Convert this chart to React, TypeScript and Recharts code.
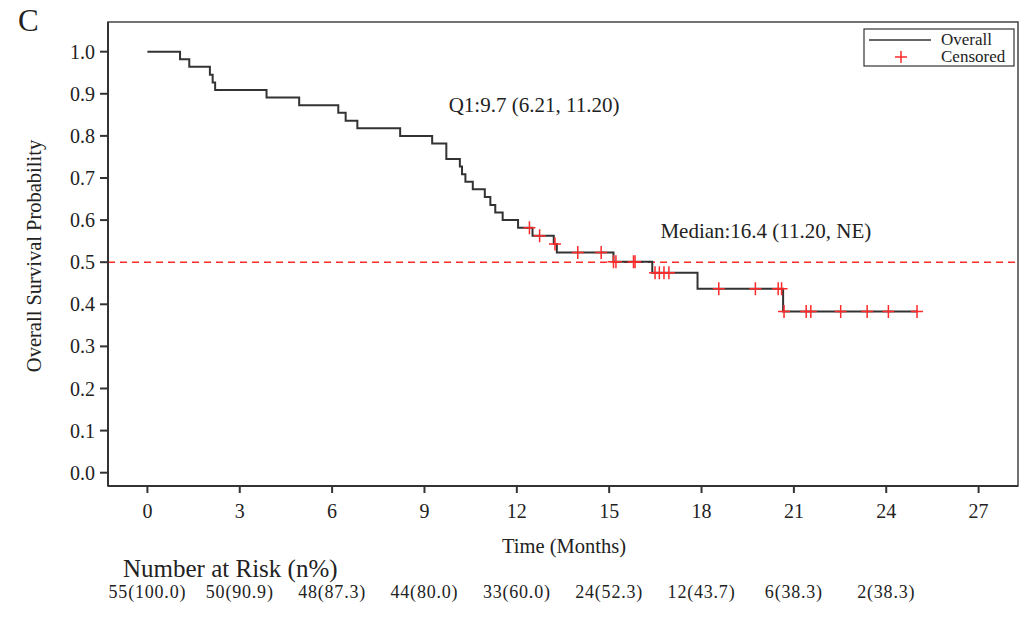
import React from 'react';
import {
  ComposedChart,
  Line,
  Scatter,
  XAxis,
  YAxis,
  ReferenceLine,
  ReferenceArea,
  ReferenceDot,
} from 'recharts';

// KM curve: event times (months) and survival after each step
const eventTimes = [
  0, 1.06, 1.36, 2.03, 2.12, 2.2, 3.87, 4.93, 6.2, 6.44, 6.82, 8.21, 9.25, 9.71, 10.15,
  10.22, 10.33, 10.57, 10.96, 11.14, 11.3, 11.54, 12.04, 12.51, 13.2, 13.3, 15.14, 16.4,
  17.87, 20.65, 25.02,
];
const survival = [
  1.0, 0.982, 0.964, 0.945, 0.927, 0.909, 0.891, 0.873, 0.855, 0.836, 0.818, 0.8, 0.782,
  0.745, 0.727, 0.709, 0.691, 0.673, 0.655, 0.636, 0.618, 0.6, 0.582, 0.563, 0.543, 0.523,
  0.501, 0.475, 0.437, 0.383, 0.383,
];

// censored patients
const censorTimes = [
  12.41, 12.74, 13.24, 13.98, 14.74, 15.14, 15.22, 15.79, 15.84, 16.49, 16.63, 16.78, 16.94,
  18.56, 19.75, 20.49, 20.6, 20.68, 21.4, 21.55, 22.52, 23.38, 24.07, 25.0,
];
const censorSurvival = [
  0.582, 0.563, 0.543, 0.523, 0.523, 0.501, 0.501, 0.501, 0.501, 0.475, 0.475, 0.475, 0.475,
  0.437, 0.437, 0.437, 0.437, 0.383, 0.383, 0.383, 0.383, 0.383, 0.383, 0.383,
];

const xTicks = [0, 3, 6, 9, 12, 15, 18, 21, 24, 27];
const yTicks = [0, 0.1, 0.2, 0.3, 0.4, 0.5, 0.6, 0.7, 0.8, 0.9, 1.0];
const riskLabels = [
  '55(100.0)', '50(90.9)', '48(87.3)', '44(80.0)', '33(60.0)',
  '24(52.3)', '12(43.7)', '6(38.3)', '2(38.3)',
];

const q1Text = 'Q1:9.7 (6.21, 11.20)';
const medianText = 'Median:16.4 (11.20, NE)';

const X_MIN = -1.28;
const X_MAX = 28.28;
const Y_MIN = -0.0316;
const Y_MAX = 1.0705;

const curve = eventTimes.map((t, i) => ({ t, s: survival[i] }));
const censored = censorTimes.map((t, i) => ({ t, s: censorSurvival[i] }));

const FONT = '"Liberation Serif", "Times New Roman", serif';
const INK = '#222';
const RED = '#ff2a2a';

const PlusMark = (props: any) => {
  const { cx, cy } = props;
  if (cx == null || cy == null) return null;
  return (
    <path
      d={`M${cx - 6},${cy}H${cx + 6}M${cx},${cy - 6.5}V${cy + 6.5}`}
      stroke={RED}
      strokeWidth={1.5}
      fill="none"
    />
  );
};

// x tick + the number-at-risk row underneath it
const TimeTick = (props: any) => {
  const { x, y, payload } = props;
  const i = xTicks.indexOf(payload.value);
  const risk = riskLabels[i];
  return (
    <g>
      <text x={x} y={y} dy="0.71em" textAnchor="middle" fontSize={20} fill={INK} fontFamily={FONT}>
        {payload.value}
      </text>
      {risk && (
        <text
          x={x}
          y={y + 94}
          textAnchor="middle"
          fontSize={18}
          letterSpacing={0.8}
          fill={INK}
          fontFamily={FONT}
        >
          {risk}
        </text>
      )}
    </g>
  );
};

export default function App() {
  return (
    <div style={{ position: 'absolute', left: 0, top: 0, width: 1033, height: 618, background: '#fff' }}>
      <ComposedChart
        width={1033}
        height={618}
        margin={{ top: 22, right: 15, left: 48, bottom: 92 }}
        style={{ fontFamily: FONT }}
      >
        <XAxis
          dataKey="t"
          type="number"
          domain={[X_MIN, X_MAX]}
          ticks={xTicks}
          height={40}
          tickSize={7}
          tickMargin={11}
          stroke="#333"
          strokeWidth={2}
          tick={<TimeTick />}
          allowDataOverflow
        />
        <YAxis
          type="number"
          domain={[Y_MIN, Y_MAX]}
          ticks={yTicks}
          width={60}
          tickSize={8}
          tickMargin={5}
          tickFormatter={(v: number) => v.toFixed(1)}
          tick={{ fontSize: 20, fill: INK, fontFamily: FONT }}
          stroke="#333"
          strokeWidth={2}
          allowDataOverflow
        />
        <ReferenceArea
          x1={X_MIN}
          x2={X_MAX}
          y1={Y_MIN}
          y2={Y_MAX}
          fill="none"
          stroke="#444"
          strokeWidth={1.5}
          ifOverflow="visible"
        />
        <ReferenceLine y={0.5} stroke={RED} strokeDasharray="7 5" strokeWidth={1.5} />
        <Line
          data={curve}
          dataKey="s"
          type="stepAfter"
          stroke="#333"
          strokeWidth={2}
          dot={false}
          isAnimationActive={false}
        />
        <Scatter data={censored} dataKey="s" shape={<PlusMark />} isAnimationActive={false} />
        <ReferenceDot
          x={12.56}
          y={0.875}
          r={0}
          fill="none"
          stroke="none"
          label={{ value: q1Text, position: 'center', fontSize: 21, fill: INK, fontFamily: FONT }}
        />
        <ReferenceDot
          x={20.09}
          y={0.575}
          r={0}
          fill="none"
          stroke="none"
          label={{ value: medianText, position: 'center', fontSize: 21, fill: INK, fontFamily: FONT }}
        />
      </ComposedChart>

      <svg
        width={1033}
        height={618}
        style={{ position: 'absolute', left: 0, top: 0, pointerEvents: 'none' }}
      >
        <g fontFamily={FONT} fill={INK}>
          <text x={18} y={31} fontSize={31} fontFamily={FONT}>C</text>
          <text
            x={41}
            y={256}
            fontSize={20.5}
            fontFamily={FONT}
            textAnchor="middle"
            transform="rotate(-90 41 256)"
          >
            Overall Survival Probability
          </text>
          <text x={564} y={553} fontSize={20.5} fontFamily={FONT} textAnchor="middle">
            Time (Months)
          </text>
          <text x={123} y={577} fontSize={25} fontFamily={FONT}>
            Number at Risk (n%)
          </text>

          <rect x={864} y={29} width={150} height={37} fill="#fff" stroke="#333" strokeWidth={1.2} />
          <line x1={869} x2={931} y1={40} y2={40} stroke="#333" strokeWidth={1.5} />
          <text x={941} y={45} fontSize={17} fontFamily={FONT}>Overall</text>
          <path d="M895,57H907M901,51V63" stroke={RED} strokeWidth={1.5} />
          <text x={941} y={62} fontSize={17} fontFamily={FONT}>Censored</text>
        </g>
      </svg>
    </div>
  );
}
